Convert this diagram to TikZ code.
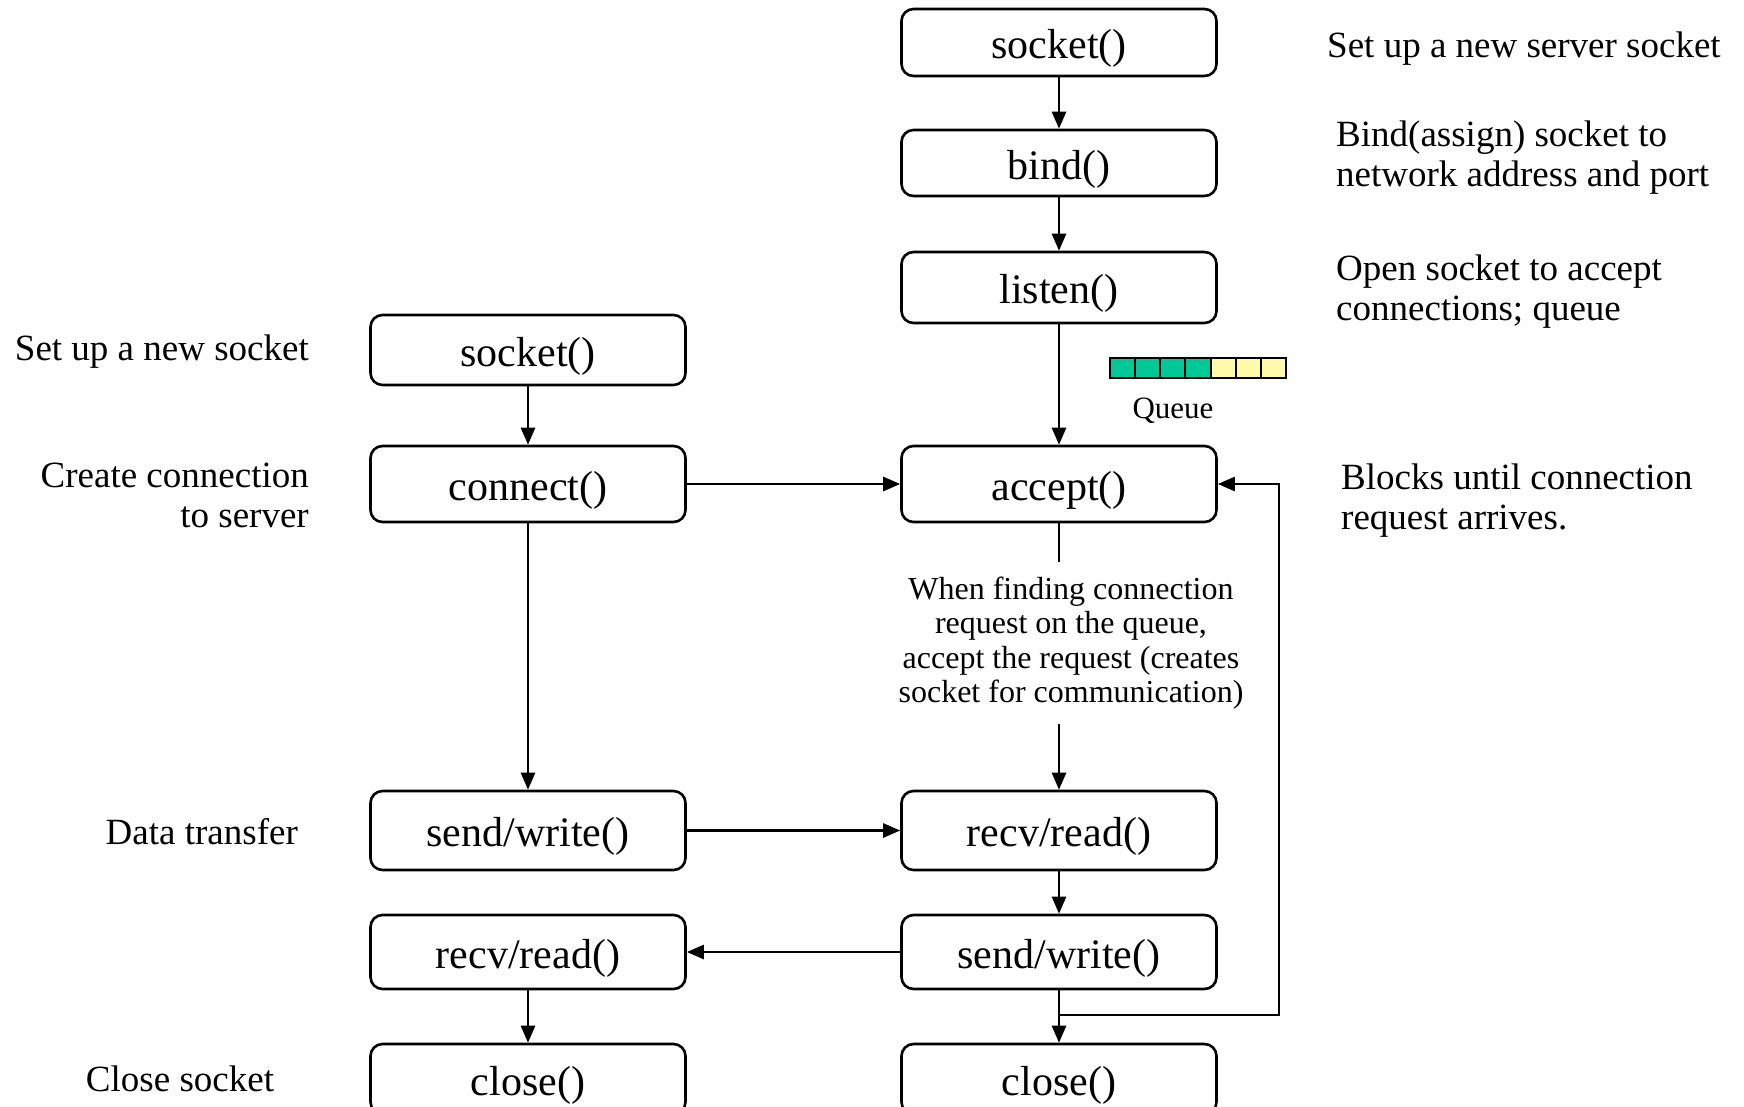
\documentclass[tikz,border=0pt]{standalone}
\usepackage{fontspec}
\setmainfont{Liberation Serif}
\usetikzlibrary{arrows.meta}
\definecolor{qgreen}{RGB}{0,200,150}
\definecolor{qyellow}{RGB}{255,250,170}
\begin{document}
\begin{tikzpicture}[x=1pt,y=-1pt,
 box/.style={draw, line width=2.6pt, rounded corners=12pt, minimum width=315pt, inner sep=0pt, text height=41pt, text depth=9pt, font=\fontsize{42}{46}\selectfont},
 lbl/.style={inner sep=0pt, font=\fontsize{37}{40}\selectfont},
 arr/.style={line width=2.6pt, -{Triangle[length=17pt,width=14pt]}},
 ln/.style={line width=2.6pt}]
\useasboundingbox (0,0) rectangle (1744,1106);
\clip (0,0) rectangle (1744,1106);
% server column
\node[box, minimum height=67pt] (ssock) at (1059,42.5) {socket()};
\node[box, minimum height=66pt] (sbind) at (1059,163) {bind()};
\node[box, minimum height=71pt] (slisten) at (1059,287.5) {listen()};
\node[box, minimum height=76pt] (saccept) at (1059,484) {accept()};
\node[box, minimum height=79pt] (srecv) at (1059,830.5) {recv/read()};
\node[box, minimum height=74pt] (ssend) at (1059,952) {send/write()};
\node[box, minimum height=70pt] (sclose) at (1059,1079) {close()};
% client column
\node[box, minimum height=70pt] (csock) at (528,350) {socket()};
\node[box, minimum height=76pt] (cconn) at (528,484) {connect()};
\node[box, minimum height=79pt] (csend) at (528,830.5) {send/write()};
\node[box, minimum height=74pt] (crecv) at (528,952) {recv/read()};
\node[box, minimum height=70pt] (cclose) at (528,1079) {close()};
% middle text
\node[inner xsep=0pt, inner ysep=14pt, align=center, font=\fontsize{32}{34.5}\selectfont] (midtext) at (1071,643)
 {When finding connection\\request on the queue,\\accept the request (creates\\socket for communication)};
% queue
\foreach \i in {0,1,2,3} {\filldraw[fill=qgreen, line width=2pt] (1110+\i*25.14,358) rectangle (1110+\i*25.14+25.14,378);}
\foreach \i in {4,5,6} {\filldraw[fill=qyellow, line width=2pt] (1110+\i*25.14,358) rectangle (1110+\i*25.14+25.14,378);}
\node[inner sep=0pt, font=\fontsize{31}{34}\selectfont] (queue) at (1173,411) {Queue};
% left labels
\node[lbl, anchor=east] (l1) at (309,352) {Set up a new socket};
\node[lbl, anchor=east, align=right] (l2) at (309,495) {Create connection\\to server};
\node[lbl, anchor=east] (l3) at (298,832) {Data transfer};
\node[lbl] (l4) at (180,1079) {Close socket};
% right labels
\node[lbl, anchor=west] (r1) at (1327,48.5) {Set up a new server socket};
\node[lbl, anchor=west, align=left] (r2) at (1336,157.5) {Bind(assign) socket to\\network address and port};
\node[lbl, anchor=west, align=left] (r3) at (1336,291.5) {Open socket to accept\\connections; queue};
\node[lbl, anchor=west, align=left] (r4) at (1341,500.5) {Blocks until connection\\request arrives.};
% connectors
\draw[arr] (ssock) -- (sbind);
\draw[arr] (sbind) -- (slisten);
\draw[arr] (slisten) -- (saccept);
\draw[ln] (saccept.south) -- (saccept.south |- midtext.north);
\draw[arr] (srecv.north |- midtext.south) -- (srecv.north);
\draw[arr] (srecv) -- (ssend);
\draw[arr] (ssend) -- (sclose);
\draw[arr] (csock) -- (cconn);
\draw[arr] (cconn) -- (csend);
\draw[arr] (crecv) -- (cclose);
\draw[arr] (cconn.east) -- (saccept.west);
\draw[arr] (csend.east) -- (srecv.west);
\draw[arr] (ssend.west) -- (crecv.east);
\coordinate (lp) at (1059,1015);
\coordinate (lpc) at (1279,1015);
\draw[arr] (lp) -- (lpc) |- (saccept.east);
\end{tikzpicture}
\end{document}
